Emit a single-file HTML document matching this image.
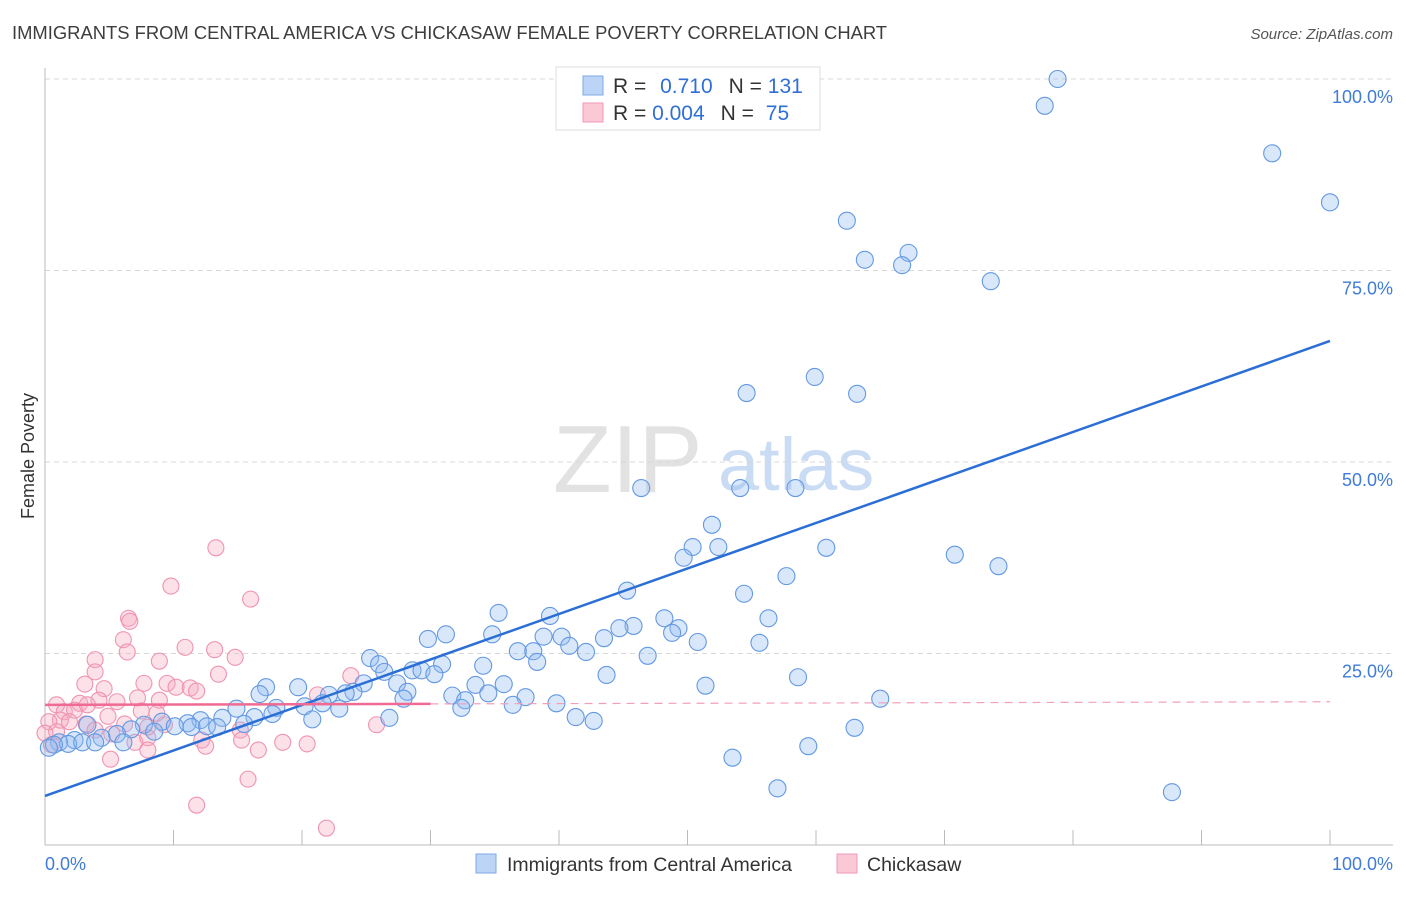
<!DOCTYPE html>
<html><head><meta charset="utf-8"><style>
body{margin:0;background:#fff;font-family:"Liberation Sans",sans-serif}
svg text{font-family:"Liberation Sans",sans-serif}
</style></head><body>
<svg id="c" width="1406" height="892" xmlns="http://www.w3.org/2000/svg">
<text x="12" y="39" font-size="18.4" fill="#3d3d3d">IMMIGRANTS FROM CENTRAL AMERICA VS CHICKASAW FEMALE POVERTY CORRELATION CHART</text>
<text x="1393" y="39" font-size="15" font-style="italic" fill="#555" text-anchor="end">Source: ZipAtlas.com</text>
<text x="0" y="0" font-size="18" fill="#333" transform="translate(34,456) rotate(-90)" text-anchor="middle">Female Poverty</text>
<g>
<text x="553" y="492" font-size="96" font-family="Liberation Serif" fill="#e2e2e2">ZIP</text>
<text x="718" y="490" font-size="74" fill="#c9dcf3">atlas</text>
</g>
<g id="grid"></g><g id="axes"></g><g id="pts"></g><g id="lines"></g>
<g>
<rect x="556" y="67" width="264" height="63" fill="#fff" stroke="#ddd"/>
<rect x="583" y="76" width="20" height="19" fill="#bcd4f6" stroke="#7ea8e6"/>
<rect x="583" y="103" width="20" height="19" fill="#fbc8d6" stroke="#f09ab4"/>
<text x="613" y="93" font-size="21" fill="#333">R = <tspan fill="#2f6fd6" dx="8">0.710</tspan><tspan dx="16" fill="#333">N = </tspan><tspan fill="#2f6fd6">131</tspan></text>
<text x="613" y="120" font-size="21" fill="#333">R = <tspan fill="#2f6fd6">0.004</tspan><tspan dx="16" fill="#333">N = </tspan><tspan fill="#2f6fd6" dx="6">75</tspan></text>
</g>
<g>
<rect x="476" y="854" width="20" height="19" fill="#bcd4f6" stroke="#7ea8e6"/>
<text x="507" y="871" font-size="19.5" fill="#333">Immigrants from Central America</text>
<rect x="837" y="854" width="20" height="19" fill="#fbc8d6" stroke="#f09ab4"/>
<text x="867" y="871" font-size="19.5" fill="#333">Chickasaw</text>
</g>
</svg>
<script>
const yTicks=[25,50,75,100];
const yTickLabels=["25.0%","50.0%","75.0%","100.0%"];
const xTicks=[0,10,20,30,40,50,60,70,80,90,100];
const blueX=[78.8,77.8,95.5,100,62.4,63.8,67.2,66.7,73.6,59.9,54.6,63.2,46.4,54.1,58.4,51.9,50.4,52.4,49.7,60.8,70.8,74.2,57.7,45.3,54.4,35.3,39.3,48.2,56.3,45.8,44.7,49.3,48.8,31.2,29.8,34.8,38.8,40.2,43.5,40.8,42.1,36.8,38.0,50.8,55.6,46.9,38.3,25.3,26.0,30.9,34.1,28.6,29.3,26.4,27.4,43.7,58.6,24.8,30.3,35.7,33.5,51.4,19.7,17.2,28.2,24.0,23.4,34.5,16.7,22.1,31.7,37.4,27.9,32.7,39.8,65.0,36.4,32.4,21.6,20.2,18.0,14.9,22.9,20.8,26.8,41.3,42.7,16.3,17.7,13.8,15.5,12.1,12.6,11.1,9.1,10.1,11.4,13.4,7.7,8.5,3.3,6.7,5.6,4.4,2.3,1.1,1.8,0.7,2.9,3.9,6.1,0.3,63.0,59.4,53.5,57.0,87.7];
const blueY=[100.0,96.5,90.3,83.9,81.5,76.4,77.3,75.7,73.6,61.1,59.0,58.9,46.6,46.6,46.6,41.8,38.9,38.9,37.5,38.8,37.9,36.4,35.1,33.2,32.8,30.3,29.9,29.6,29.6,28.6,28.3,28.3,27.7,27.5,26.9,27.5,27.2,27.2,27.0,26.0,25.2,25.3,25.3,26.5,26.4,24.7,23.9,24.4,23.6,23.6,23.4,22.8,22.8,22.6,21.1,22.2,21.9,21.1,22.3,21.0,20.9,20.8,20.6,20.6,20.0,20.0,19.8,19.8,19.7,19.6,19.5,19.3,19.1,18.9,18.5,19.1,18.3,17.9,18.5,18.1,17.9,17.8,17.8,16.4,16.6,16.7,16.2,16.7,17.1,16.6,15.8,16.3,15.5,15.9,16.1,15.5,15.4,15.4,15.7,14.8,15.7,15.1,14.5,14.0,13.7,13.4,13.2,13.1,13.4,13.4,13.4,12.7,15.3,12.9,11.4,7.4,6.9];
const pinkX=[13.3,9.8,16.0,6.5,6.6,6.1,6.4,10.9,13.2,3.9,8.9,14.8,3.9,13.5,3.1,7.7,9.5,10.2,11.3,4.6,11.8,23.8,21.2,7.2,8.9,4.2,2.7,0.9,1.5,2.3,3.3,5.6,4.9,7.5,8.7,1.2,1.9,3.2,0.3,6.2,8.0,9.3,3.9,0.9,5.2,15.2,7.0,8.0,12.2,12.5,15.3,18.5,20.4,16.6,8.0,5.1,25.8,15.8,11.8,21.9,0,0.5];
const pinkY=[38.8,33.8,32.1,29.6,29.2,26.8,25.2,25.8,25.5,24.2,24.0,24.5,22.6,22.3,21.0,21.1,21.1,20.6,20.5,20.4,20.1,22.1,19.6,19.2,18.9,18.9,18.5,18.3,17.4,17.6,18.3,18.7,16.8,17.5,17.2,16.3,16.1,15.8,16.1,15.8,15.4,15.7,15.0,14.8,14.5,15.0,13.4,14.0,13.7,12.9,13.7,13.4,13.2,12.4,12.4,11.2,15.7,8.6,5.2,2.2,14.6,13.1];
const blueTrend=[6.4,65.8];
const pinkTrend=[18.3,18.7];
const NS="http://www.w3.org/2000/svg";
const X=v=>45+v*12.85, Y=v=>845-v*7.66;
function mk(p,t,a){const e=document.createElementNS(NS,t);for(const k in a)e.setAttribute(k,a[k]);p.appendChild(e);return e;}
const grid=document.getElementById('grid'),axes=document.getElementById('axes'),pts=document.getElementById('pts'),lines=document.getElementById('lines');
yTicks.forEach((t,i)=>{
 const l=mk(grid,'line',{x1:45,x2:1393,y1:Y(t),y2:Y(t),stroke:'#d8d8d8','stroke-dasharray':'5,4'});
 
 
 const tx=mk(axes,'text',{x:1393,y:Y(t)+24,'font-size':18,fill:'#3f7bd8','text-anchor':'end'});
 tx.textContent=yTickLabels[i];
 
 
});
const ya=mk(axes,'line',{x1:45,x2:45,y1:68,y2:845,stroke:'#bbb'});


const xa=mk(axes,'line',{x1:45,x2:1393,y1:845,y2:845,stroke:'#bbb'});


xTicks.forEach(t=>{
 const l=mk(axes,'line',{x1:X(t),x2:X(t),y1:830,y2:845,stroke:'#bbb'});
 
 
});
const xl0=mk(axes,'text',{x:45,y:870,'font-size':18,fill:'#3f7bd8'});xl0.textContent='0.0%';


const xl1=mk(axes,'text',{x:1393,y:870,'font-size':18,fill:'#3f7bd8','text-anchor':'end'});xl1.textContent='100.0%';


pinkX.forEach((v,i)=>{
 const c=mk(pts,'circle',{cx:X(v),cy:Y(pinkY[i]),r:8,fill:'rgba(246,168,192,0.35)',stroke:'#ef94b1','stroke-width':1.1});
 
 
});
blueX.forEach((v,i)=>{
 const c=mk(pts,'circle',{cx:X(v),cy:Y(blueY[i]),r:8.5,fill:'rgba(147,187,240,0.35)',stroke:'#6499e2','stroke-width':1.1});
 
 
});
const bl=mk(lines,'line',{x1:X(0),y1:Y(blueTrend[0]),x2:X(100),y2:Y(blueTrend[1]),stroke:'#2b6fd6','stroke-width':2.5});


const py=v=>pinkTrend[0]+(pinkTrend[1]-pinkTrend[0])*v/100;
const pl=mk(lines,'line',{x1:X(0),y1:Y(py(0)),x2:X(30),y2:Y(py(30)),stroke:'#ef6b93','stroke-width':2.5});


const pd=mk(lines,'line',{x1:X(30),y1:Y(py(30)),x2:X(100),y2:Y(py(100)),stroke:'#f2a0b8','stroke-width':1.2,'stroke-dasharray':'8,6'});


</script>
</body></html>
